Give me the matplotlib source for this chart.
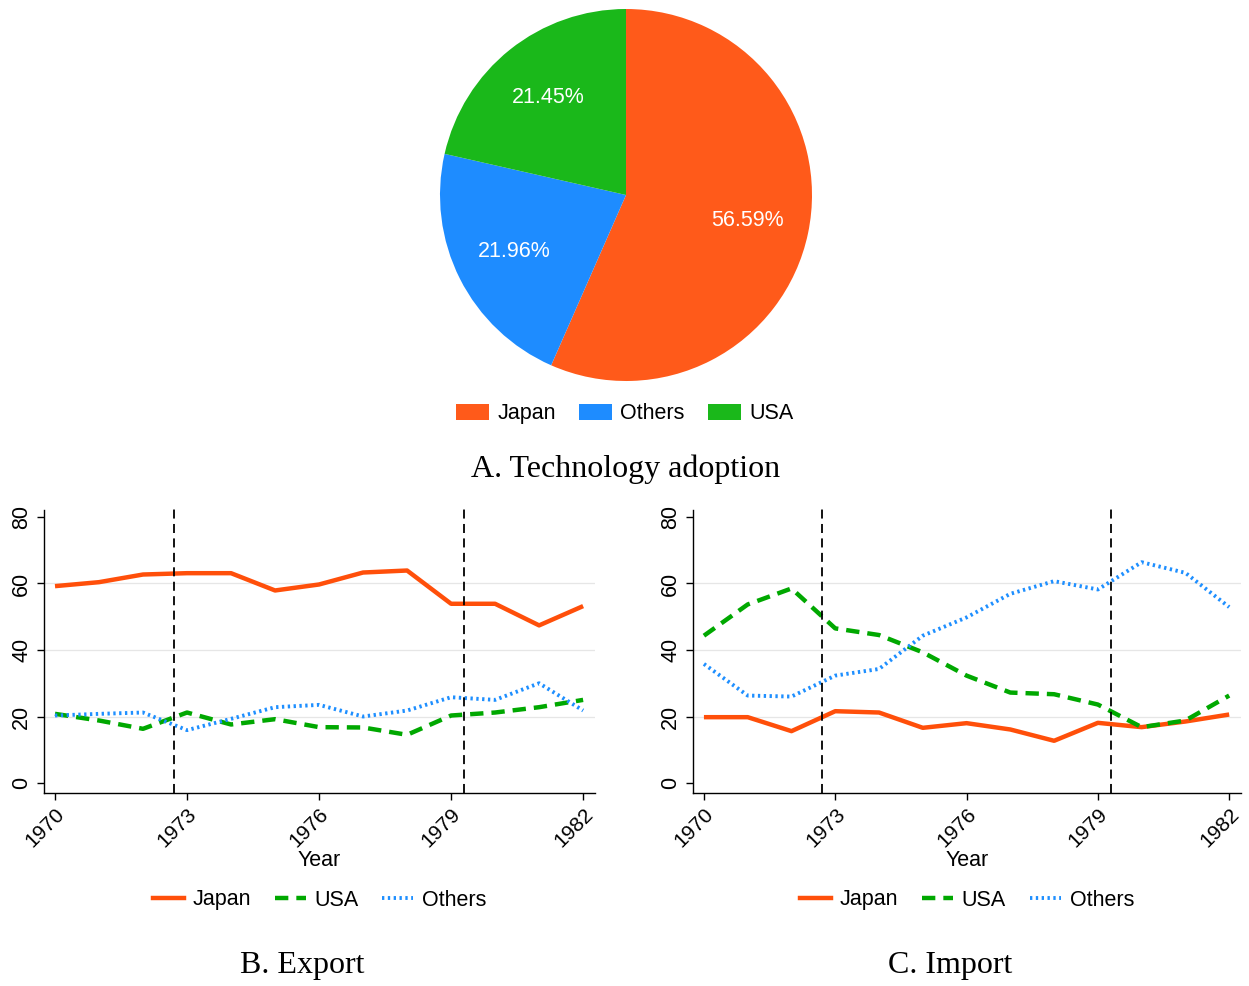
import matplotlib
matplotlib.use("Agg")
import matplotlib.pyplot as plt
from matplotlib.patches import Patch
from matplotlib.lines import Line2D

# pie data
pie_labels = ["Japan", "Others", "USA"]
pie_shares = [56.59, 21.96, 21.45]
pie_colors = ["#FF5A1A", "#1E8CFF", "#1AB81A"]

years = list(range(1970, 1983))
xticks = [1970, 1973, 1976, 1979, 1982]
yticks = [0, 20, 40, 60, 80]
vlines = [1972.7, 1979.3]

export_japan = [59.2, 60.4, 62.7, 63.1, 63.1, 57.9, 59.7, 63.3, 63.9, 53.9, 53.9, 47.4, 53.2]
export_usa = [20.8, 18.8, 16.3, 21.2, 17.6, 19.2, 16.8, 16.7, 14.5, 20.3, 21.2, 22.8, 25.0]
export_others = [20.3, 20.8, 21.2, 15.9, 19.3, 22.8, 23.5, 20.0, 21.8, 25.8, 25.0, 30.0, 21.8]

import_japan = [19.8, 19.8, 15.6, 21.6, 21.2, 16.6, 18.0, 16.1, 12.7, 18.1, 16.8, 18.5, 20.6]
import_usa = [44.3, 53.7, 58.5, 46.5, 44.5, 39.3, 32.3, 27.2, 26.7, 23.6, 16.8, 18.8, 26.3]
import_others = [35.8, 26.3, 26.0, 32.3, 34.3, 44.3, 49.8, 56.9, 60.7, 58.2, 66.4, 63.2, 52.9]

C_JAPAN = "#FF4F0A"
C_USA = "#00A800"
C_OTHERS = "#1E8FFF"

SANS = "Liberation Sans"
SERIF = "Liberation Serif"

W, H = 1249, 986
fig = plt.figure(figsize=(W / 100, H / 100), dpi=100)


def px_axes(x0, y0, x1, y1):
    # pixel box (top-left origin) -> figure axes
    return fig.add_axes([x0 / W, 1 - y1 / H, (x1 - x0) / W, (y1 - y0) / H])


# panel A: pie
ax_pie = px_axes(440, 9, 812, 381)
ax_pie.pie(
    pie_shares, colors=pie_colors, startangle=90, counterclock=False,
    autopct="%.2f%%", pctdistance=0.67,
    textprops=dict(color="white", fontsize=15.5, family=SANS),
)
ax_pie.set_xlim(-1, 1)
ax_pie.set_ylim(-1, 1)
ax_pie.set_aspect("equal")
handles = [Patch(facecolor=c, label=l) for c, l in zip(pie_colors, pie_labels)]
fig.legend(handles=handles, loc="center", bbox_to_anchor=(625 / W, 1 - 414 / H), ncol=3,
           frameon=False, prop=dict(family=SANS, size=15.5), handlelength=1.5, handleheight=0.75,
           columnspacing=1.1, handletextpad=0.4)
fig.text(626 / W, 1 - 469 / H, "A. Technology adoption", ha="center", va="center",
         family=SERIF, fontsize=23)


def line_panel(box, japan, usa, others, title, title_x):
    ax = px_axes(*box)
    ax.plot(years, japan, color=C_JAPAN, lw=3.2, solid_capstyle="butt")
    ax.plot(years, usa, color=C_USA, lw=3.2, dashes=(3, 1.8))
    ax.plot(years, others, color=C_OTHERS, lw=2.8, dashes=(0.6, 0.9))
    for v in vlines:
        ax.axvline(v, color="black", lw=1.3, dashes=(5, 3))
    for t in [20, 40, 60]:
        ax.axhline(t, color="#E6E6E6", lw=0.9, zorder=0)
    ax.set_xlim(1969.75, 1982.27)
    ax.set_ylim(-3, 83)
    ax.set_xticks(xticks)
    ax.set_yticks(yticks)
    ax.set_xticklabels([str(x) for x in xticks], rotation=45, ha="right", rotation_mode="anchor",
                       family=SANS, fontsize=15)
    ax.set_yticklabels([str(y) for y in yticks], rotation=90, va="center",
                       family=SANS, fontsize=15.5)
    ax.spines["top"].set_visible(False)
    ax.spines["right"].set_visible(False)
    ax.spines["left"].set_bounds(-3, 82)
    for s in ["left", "bottom"]:
        ax.spines[s].set_linewidth(1.0)
    ax.tick_params(length=5, width=1.0)
    ax.set_xlabel("Year", family=SANS, fontsize=15.5, va="center")
    ax.xaxis.set_label_coords(0.5, -(860 - box[3]) / (box[3] - box[1]), transform=ax.transAxes)
    leg_handles = [
        Line2D([], [], color=C_JAPAN, lw=3.2),
        Line2D([], [], color=C_USA, lw=3.2, dashes=(3, 1.8)),
        Line2D([], [], color=C_OTHERS, lw=2.8, dashes=(0.6, 0.9)),
    ]
    cx = (box[0] + box[2]) / 2
    fig.legend(leg_handles, ["Japan", "USA", "Others"], loc="center",
               bbox_to_anchor=(cx / W, 1 - 900 / H), ncol=3, frameon=False,
               prop=dict(family=SANS, size=15.5), handlelength=1.45,
               columnspacing=1.1, handletextpad=0.4)
    fig.text(title_x / W, 1 - 965 / H, title, ha="center", va="center",
             family=SERIF, fontsize=23)
    return ax


line_panel((44, 507, 595, 793), export_japan, export_usa, export_others, "B. Export", 302)
line_panel((693, 507, 1241, 793), import_japan, import_usa, import_others, "C. Import", 950)

fig.savefig("out.png", dpi=100)
